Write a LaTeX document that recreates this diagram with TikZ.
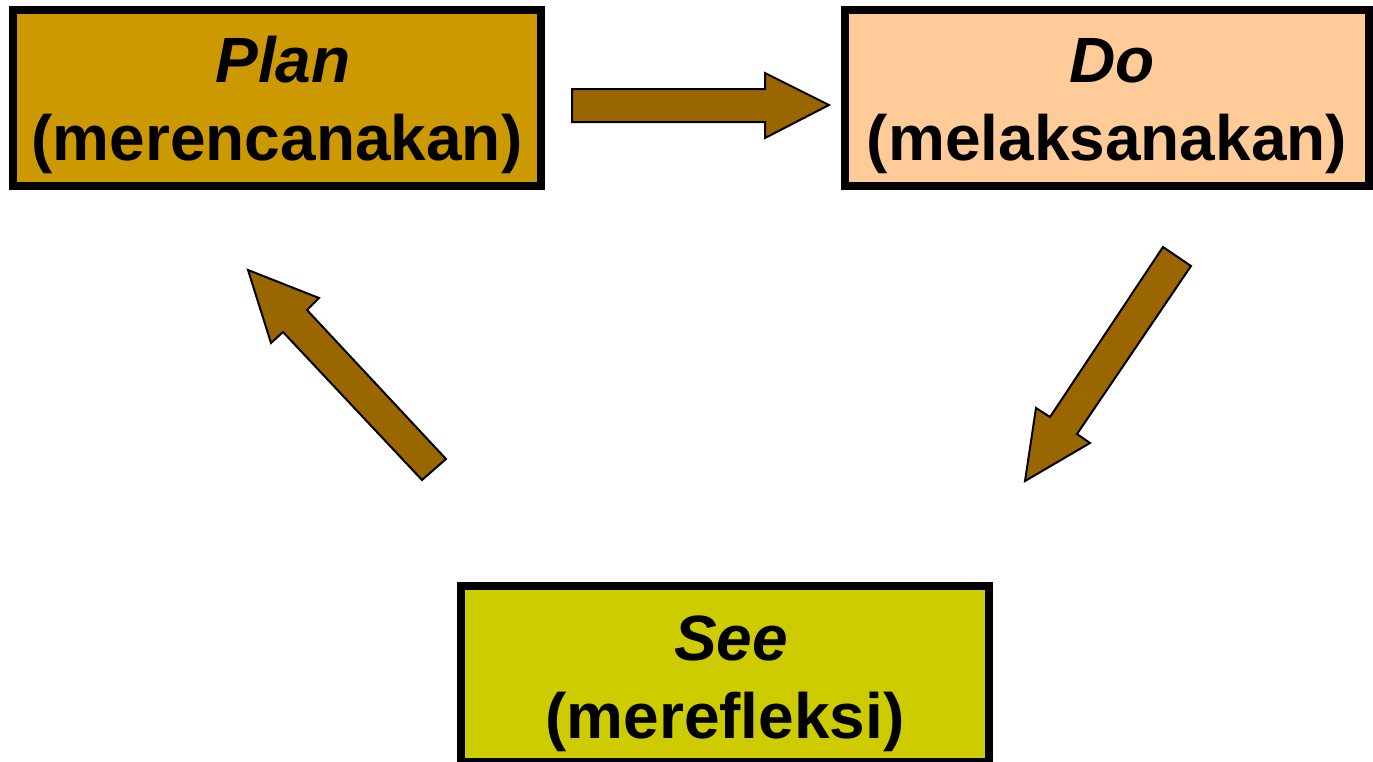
\documentclass[tikz,border=0pt]{standalone}
\usepackage{fontspec}
\setmainfont{Liberation Sans}
\definecolor{planc}{HTML}{CC9900}
\definecolor{doc}{HTML}{FFCC99}
\definecolor{seec}{HTML}{CCCC00}
\definecolor{arrowc}{HTML}{996600}
\begin{document}
\begin{tikzpicture}[x=1pt,y=-1pt,
  box/.style={draw=black,line width=8pt,inner sep=0pt,minimum height=176pt},
  lbl/.style={anchor=base,inner sep=0pt,font=\fontsize{64}{78}\selectfont\bfseries},
  blockarrow/.style={fill=arrowc,draw=black,line width=2pt,line join=miter}]
\useasboundingbox (0,0) rectangle (1373,761);
\node[box,fill=planc,minimum width=528pt] (plan) at (277,98) {};
\node[box,fill=doc,minimum width=524pt] (do) at (1107,98) {};
\node[box,fill=seec,minimum width=528pt] (see) at (725,674) {};
\node[lbl] (plant) at (283,82) {\itshape Plan};
\node[lbl] (plans) at (277,160) {(merencanakan)};
\node[lbl] (dot) at (1112,82) {\itshape Do};
\node[lbl] (dos) at (1107,160) {(melaksanakan)};
\node[lbl] (seet) at (731,660) {\itshape See};
\node[lbl] (sees) at (725,738) {(merefleksi)};
\draw[blockarrow] (572,89) -- (765,89) -- (765,73) -- (829,105) -- (765,138) -- (765,122) -- (572,122) -- cycle;
\draw[blockarrow] (1163,247) -- (1191,266) -- (1077,434) -- (1090,443) -- (1025,481) -- (1036,408) -- (1050,417) -- cycle;
\draw[blockarrow] (248,270) -- (319,298) -- (307,310) -- (446,459) -- (422,480) -- (283,332) -- (271,343) -- cycle;
\end{tikzpicture}
\end{document}
